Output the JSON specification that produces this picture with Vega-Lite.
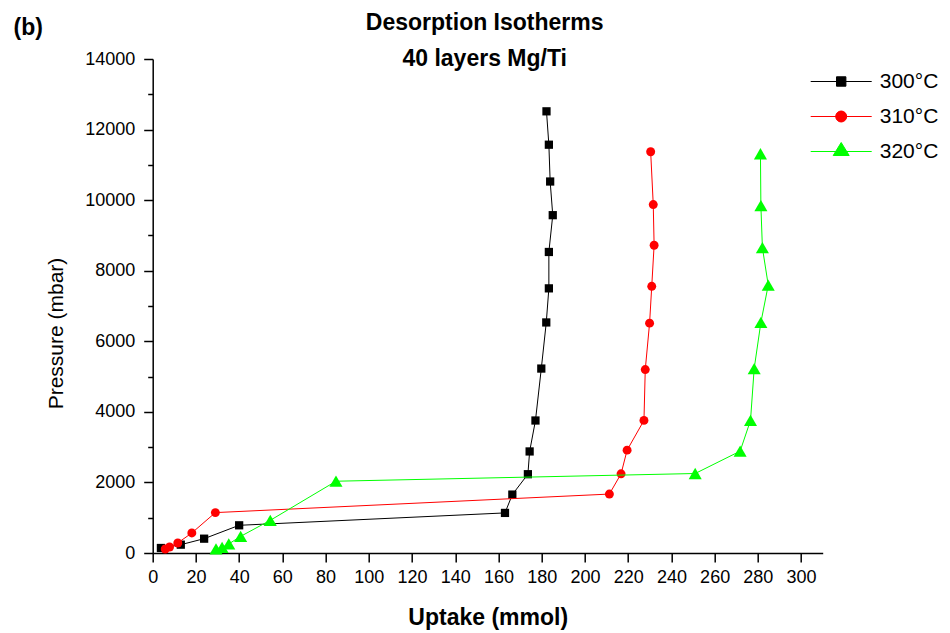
{
  "$schema": "https://vega.github.io/schema/vega-lite/v6.json",
  "width": 670,
  "height": 494,
  "autosize": {"type": "none"},
  "padding": {"left": 152.7, "top": 59, "right": 127.3, "bottom": 80},
  "background": "white",
  "title": {
    "text": ["Desorption Isotherms", "40 layers Mg/Ti"],
    "font": "Liberation Sans",
    "fontSize": 23,
    "fontWeight": "bold",
    "color": "#000000",
    "lineHeight": 36,
    "anchor": "middle",
    "frame": "group",
    "baseline": "alphabetic",
    "offset": -73,
    "dx": -3
  },
  "config": {
    "view": {"stroke": null},
    "font": "Liberation Sans"
  },
  "data": {
    "values": [
      {"series": "300°C", "idx": 1, "uptake": 3.8, "pressure": 142},
      {"series": "300°C", "idx": 2, "uptake": 13.0, "pressure": 236},
      {"series": "300°C", "idx": 3, "uptake": 23.8, "pressure": 406},
      {"series": "300°C", "idx": 4, "uptake": 40.0, "pressure": 785},
      {"series": "300°C", "idx": 5, "uptake": 163.0, "pressure": 1136},
      {"series": "300°C", "idx": 6, "uptake": 166.4, "pressure": 1656},
      {"series": "300°C", "idx": 7, "uptake": 173.6, "pressure": 2233},
      {"series": "300°C", "idx": 8, "uptake": 174.4, "pressure": 2878},
      {"series": "300°C", "idx": 9, "uptake": 177.1, "pressure": 3755},
      {"series": "300°C", "idx": 10, "uptake": 179.8, "pressure": 5227},
      {"series": "300°C", "idx": 11, "uptake": 182.1, "pressure": 6534},
      {"series": "300°C", "idx": 12, "uptake": 183.3, "pressure": 7500},
      {"series": "300°C", "idx": 13, "uptake": 183.3, "pressure": 8531},
      {"series": "300°C", "idx": 14, "uptake": 185.1, "pressure": 9574},
      {"series": "300°C", "idx": 15, "uptake": 183.9, "pressure": 10528},
      {"series": "300°C", "idx": 16, "uptake": 183.3, "pressure": 11571},
      {"series": "300°C", "idx": 17, "uptake": 182.2, "pressure": 12517},
      {"series": "310°C", "idx": 1, "uptake": 5.8, "pressure": 114},
      {"series": "310°C", "idx": 2, "uptake": 7.8, "pressure": 170},
      {"series": "310°C", "idx": 3, "uptake": 11.6, "pressure": 284},
      {"series": "310°C", "idx": 4, "uptake": 18.1, "pressure": 568},
      {"series": "310°C", "idx": 5, "uptake": 29.0, "pressure": 1145},
      {"series": "310°C", "idx": 6, "uptake": 211.3, "pressure": 1670},
      {"series": "310°C", "idx": 7, "uptake": 216.7, "pressure": 2244},
      {"series": "310°C", "idx": 8, "uptake": 219.5, "pressure": 2915},
      {"series": "310°C", "idx": 9, "uptake": 227.3, "pressure": 3758},
      {"series": "310°C", "idx": 10, "uptake": 227.9, "pressure": 5199},
      {"series": "310°C", "idx": 11, "uptake": 229.9, "pressure": 6514},
      {"series": "310°C", "idx": 12, "uptake": 230.9, "pressure": 7557},
      {"series": "310°C", "idx": 13, "uptake": 232.0, "pressure": 8722},
      {"series": "310°C", "idx": 14, "uptake": 231.6, "pressure": 9875},
      {"series": "310°C", "idx": 15, "uptake": 230.4, "pressure": 11372},
      {"series": "320°C", "idx": 1, "uptake": 29.3, "pressure": 115},
      {"series": "320°C", "idx": 2, "uptake": 32.1, "pressure": 159},
      {"series": "320°C", "idx": 3, "uptake": 35.2, "pressure": 256},
      {"series": "320°C", "idx": 4, "uptake": 40.7, "pressure": 472},
      {"series": "320°C", "idx": 5, "uptake": 54.4, "pressure": 926},
      {"series": "320°C", "idx": 6, "uptake": 84.8, "pressure": 2034},
      {"series": "320°C", "idx": 7, "uptake": 251.0, "pressure": 2253},
      {"series": "320°C", "idx": 8, "uptake": 271.8, "pressure": 2886},
      {"series": "320°C", "idx": 9, "uptake": 276.6, "pressure": 3758},
      {"series": "320°C", "idx": 10, "uptake": 278.3, "pressure": 5227},
      {"series": "320°C", "idx": 11, "uptake": 281.4, "pressure": 6534},
      {"series": "320°C", "idx": 12, "uptake": 284.8, "pressure": 7593},
      {"series": "320°C", "idx": 13, "uptake": 282.1, "pressure": 8653},
      {"series": "320°C", "idx": 14, "uptake": 281.4, "pressure": 9846},
      {"series": "320°C", "idx": 15, "uptake": 281.2, "pressure": 11315}
    ]
  },
  "resolve": {"axis": {"y": "independent"}},
  "layer": [
    {
      "transform": [{"filter": "datum.series === '300°C'"}],
      "mark": {"type": "line", "strokeWidth": 1, "clip": false},
      "encoding": {
        "x": {
          "field": "uptake", "type": "quantitative", "title": "Uptake (mmol)",
          "scale": {"domain": [0, 310], "nice": false, "zero": false},
          "axis": {
            "values": [0, 10, 20, 30, 40, 50, 60, 70, 80, 90, 100, 110, 120, 130, 140, 150, 160, 170, 180, 190, 200, 210, 220, 230, 240, 250, 260, 270, 280, 290, 300, 310],
            "labelExpr": "datum.value % 20 === 0 ? datum.label : ''",
            "format": "d",
            "labelOverlap": false,
            "labelFlush": false,
            "grid": false,
            "domainColor": "#000000",
            "domainWidth": 1.5,
            "tickColor": "#000000",
            "tickWidth": 1.5,
            "tickSize": {"condition": {"test": "datum.value % 20 === 0", "value": 9}, "value": 5},
            "labelFont": "Liberation Sans",
            "labelFontSize": 18,
            "labelColor": "#000000",
            "labelPadding": 6,
            "titleFont": "Liberation Sans",
            "titleFontSize": 23,
            "titleFontWeight": "bold",
            "titleColor": "#000000",
            "titleBaseline": "alphabetic",
            "titleY": 71
          }
        },
        "y": {
          "field": "pressure", "type": "quantitative", "title": "Pressure (mbar)",
          "scale": {"domain": [0, 14000], "nice": false, "zero": false},
          "axis": {
            "values": [0, 1000, 2000, 3000, 4000, 5000, 6000, 7000, 8000, 9000, 10000, 11000, 12000, 13000, 14000],
            "labelExpr": "datum.value % 2000 === 0 ? datum.label : ''",
            "format": "d",
            "labelOverlap": false,
            "labelFlush": false,
            "grid": false,
            "domainColor": "#000000",
            "domainWidth": 1.5,
            "tickColor": "#000000",
            "tickWidth": 1.5,
            "tickSize": {"condition": {"test": "datum.value % 2000 === 0", "value": 9}, "value": 5},
            "labelFont": "Liberation Sans",
            "labelFontSize": 18,
            "labelColor": "#000000",
            "labelPadding": 9,
            "titleFont": "Liberation Sans",
            "titleFontSize": 21,
            "titleFontWeight": "normal",
            "titleColor": "#000000",
            "titleAngle": -90,
            "titleBaseline": "middle",
            "titleAlign": "center",
            "titleX": -96,
            "titleY": 274
          }
        },
        "color": {
          "field": "series", "type": "nominal", "title": null,
          "scale": {"domain": ["300°C", "310°C", "320°C"], "range": ["#000000", "#ff0000", "#00ff00"]},
          "legend": {
            "orient": "none",
            "legendX": 678,
            "legendY": 12,
            "padding": 0,
            "symbolSize": 400,
            "symbolOffset": 0,
            "labelOffset": 28,
            "rowPadding": 13,
            "labelFont": "Liberation Sans",
            "labelFontSize": 21,
            "labelColor": "#000000",
            "labelLimit": 200,
            "symbolStrokeWidth": 1,
            "encode": {
              "symbols": {
                "update": {
                  "shape": {"signal": "datum.value === '300°C' ? 'M-3.05,0H3.05M-0.47,-0.47H0.47V0.47H-0.47Z' : datum.value === '310°C' ? 'M-3.05,0H3.05M0.55,0A0.55,0.55,0,1,1,-0.55,0A0.55,0.55,0,1,1,0.55,0Z' : 'M-3.05,0H3.05M0,-0.9L0.8,0.4H-0.8Z'"},
                  "stroke": {"scale": "color", "field": "value"},
                  "fill": {"scale": "color", "field": "value"},
                  "strokeWidth": {"value": 1}
                }
              }
            }
          }
        },
        "order": {"field": "idx", "type": "quantitative"}
      }
    },
    {
      "transform": [{"filter": "datum.series === '300°C'"}],
      "mark": {"type": "point", "shape": "square", "filled": true, "opacity": 1, "size": 68, "color": "#000000", "clip": false},
      "encoding": {
        "x": {"field": "uptake", "type": "quantitative", "title": "Uptake (mmol)"},
        "y": {
          "field": "pressure", "type": "quantitative", "title": "(b)",
          "axis": {
            "orient": "left",
            "domain": false,
            "ticks": false,
            "labels": false,
            "grid": false,
            "title": "(b)",
            "titleFont": "Liberation Sans",
            "titleFontSize": 23,
            "titleFontWeight": "bold",
            "titleColor": "#000000",
            "titleAngle": 0,
            "titleAlign": "center",
            "titleBaseline": "middle",
            "titleX": -125,
            "titleY": -32
          }
        }
      }
    },
    {
      "transform": [{"filter": "datum.series === '310°C'"}],
      "mark": {"type": "line", "strokeWidth": 1, "clip": false},
      "encoding": {
        "x": {"field": "uptake", "type": "quantitative", "title": "Uptake (mmol)"},
        "y": {"field": "pressure", "type": "quantitative", "axis": null},
        "color": {"field": "series", "type": "nominal", "legend": null},
        "order": {"field": "idx", "type": "quantitative"}
      }
    },
    {
      "transform": [{"filter": "datum.series === '310°C'"}],
      "mark": {"type": "point", "shape": "circle", "filled": true, "opacity": 1, "size": 80, "color": "#ff0000", "clip": false},
      "encoding": {
        "x": {"field": "uptake", "type": "quantitative", "title": "Uptake (mmol)"},
        "y": {"field": "pressure", "type": "quantitative", "axis": null}
      }
    },
    {
      "transform": [{"filter": "datum.series === '320°C'"}],
      "mark": {"type": "line", "strokeWidth": 1, "clip": false},
      "encoding": {
        "x": {"field": "uptake", "type": "quantitative", "title": "Uptake (mmol)"},
        "y": {"field": "pressure", "type": "quantitative", "axis": null},
        "color": {"field": "series", "type": "nominal", "legend": null},
        "order": {"field": "idx", "type": "quantitative"}
      }
    },
    {
      "transform": [{"filter": "datum.series === '320°C'"}],
      "mark": {"type": "point", "shape": "triangle-up", "filled": true, "opacity": 1, "size": 170, "color": "#00ff00", "clip": false},
      "encoding": {
        "x": {"field": "uptake", "type": "quantitative", "title": "Uptake (mmol)"},
        "y": {"field": "pressure", "type": "quantitative", "axis": null}
      }
    }
  ]
}
